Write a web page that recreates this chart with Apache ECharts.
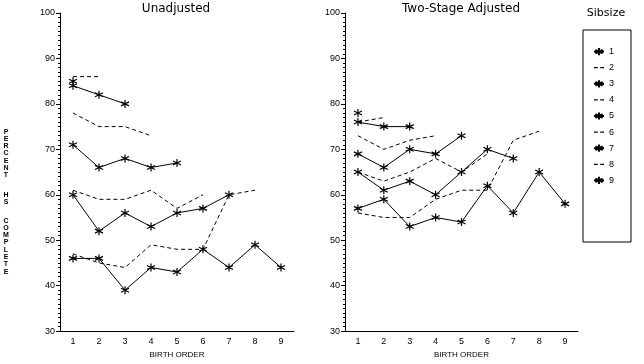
<!DOCTYPE html>
<html><head><meta charset="utf-8">
<script src="https://cdn.jsdelivr.net/npm/echarts@6/dist/echarts.min.js"></script>
<style>html,body{margin:0;padding:0;background:#fff}#c{width:644px;height:364px}</style>
</head><body><div id="c"></div>
<script>
const birthOrders = ['1','2','3','4','5','6','7','8','9'];
const sibsizes = ['1','2','3','4','5','6','7','8','9'];
const yTicks = [30, 40, 50, 60, 70, 80, 90, 100];
const panelTitles = ['Unadjusted', 'Two-Stage Adjusted'];

// Unadjusted: percent HS complete by birth order, one array per sibsize
const unadj1 = [85];
const unadj2 = [86, 86];
const unadj3 = [84, 82, 80];
const unadj4 = [78, 75, 75, 73];
const unadj5 = [71, 66, 68, 66, 67];
const unadj6 = [61, 59, 59, 61, 57, 60];
const unadj7 = [60, 52, 56, 53, 56, 57, 60];
const unadj8 = [47, 45, 44, 49, 48, 48, 60, 61];
const unadj9 = [46, 46, 39, 44, 43, 48, 44, 49, 44];

// Two-stage adjusted
const adj1 = [78];
const adj2 = [76, 77];
const adj3 = [76, 75, 75];
const adj4 = [73, 70, 72, 73];
const adj5 = [69, 66, 70, 69, 73];
const adj6 = [65, 63, 65, 68, 65, 69];
const adj7 = [65, 61, 63, 60, 65, 70, 68];
const adj8 = [56, 55, 55, 59, 61, 61, 72, 74];
const adj9 = [57, 59, 53, 55, 54, 62, 56, 65, 58];

const unadjAll = [unadj1, unadj2, unadj3, unadj4, unadj5, unadj6, unadj7, unadj8, unadj9];
const adjAll = [adj1, adj2, adj3, adj4, adj5, adj6, adj7, adj8, adj9];

const STAR = 'path://M0,-5L0,5M-4.33,-2.5L4.33,2.5M-4.33,2.5L4.33,-2.5';
const DASH_ICON = 'path://M0,0h3v1h-3zM5,0h3v1h-3z';
const AX_FONT = 'Liberation Sans';

function mkSeries(data, idx, panel) {
  const odd = (idx % 2 === 0); // sibsize 1,3,5,...
  return {
    type: 'line',
    name: sibsizes[idx],
    xAxisIndex: panel, yAxisIndex: panel,
    data: data,
    symbol: odd ? STAR : 'none',
    symbolSize: 8,
    showSymbol: odd,
    color: '#000',
    itemStyle: { color: '#000', borderColor: '#000', borderWidth: 1.2 },
    lineStyle: { color: '#000', width: 1, type: odd ? 'solid' : [4, 3] },
    emphasis: { disabled: true },
    animation: false,
    z: 3
  };
}

const series = [];
unadjAll.forEach((d, i) => series.push(mkSeries(d, i, 0)));
adjAll.forEach((d, i) => series.push(mkSeries(d, i, 1)));

function xAx(grid) {
  return {
    type: 'category', gridIndex: grid, data: birthOrders, boundaryGap: true,
    name: 'BIRTH ORDER', nameLocation: 'middle', nameGap: 18,
    nameTextStyle: { fontFamily: AX_FONT, fontSize: 8, color: '#000' },
    axisLine: { lineStyle: { color: '#000', width: 1 } },
    axisTick: { alignWithLabel: true, length: 4, lineStyle: { color: '#000' } },
    axisLabel: { fontFamily: AX_FONT, fontSize: 9, color: '#000', margin: 6 },
    splitLine: { show: false }
  };
}
function yAx(grid) {
  return {
    type: 'value', gridIndex: grid, min: yTicks[0], max: yTicks[yTicks.length - 1], interval: 10,
    axisLine: { show: true, lineStyle: { color: '#000', width: 1 } },
    axisTick: { show: true, length: 4, lineStyle: { color: '#000' } },
    minorTick: { show: true, splitNumber: 10, length: 2, lineStyle: { color: '#000' } },
    axisLabel: { fontFamily: AX_FONT, fontSize: 9, color: '#000', margin: 5 },
    splitLine: { show: false }
  };
}

function stacked(word) { return word.split('').join('\n'); }

const legendData = sibsizes.map((n, i) => (i % 2 === 0)
  ? { name: n }
  : { name: n, icon: DASH_ICON, itemStyle: { borderWidth: 0 } });

const titleFont = '12px "DejaVu Sans"';

const option = {
  backgroundColor: '#fff',
  animation: false,
  grid: [
    { left: 60, top: 13, width: 234, height: 324 },
    { left: 345, top: 13, width: 233, height: 324 }
  ],
  xAxis: [xAx(0), xAx(1)],
  yAxis: [yAx(0), yAx(1)],
  legend: {
    data: legendData,
    orient: 'vertical', left: 583, top: 30,
    itemWidth: 10, itemHeight: 9, itemGap: 7,
    padding: [17, 17, 57, 10],
    borderColor: '#000', borderWidth: 1,
    selectedMode: false,
    textStyle: { fontFamily: AX_FONT, fontSize: 9, color: '#000' }
  },
  graphic: [
    { type: 'text', x: 176, y: 3, style: { text: panelTitles[0], font: titleFont, fill: '#000', align: 'center' } },
    { type: 'text', x: 461, y: 3, style: { text: panelTitles[1], font: titleFont, fill: '#000', align: 'center' } },
    { type: 'text', x: 606, y: 8, style: { text: 'Sibsize', font: '11px "DejaVu Sans"', fill: '#000', align: 'center' } },
    { type: 'text', x: 6, y: 128, style: { text: stacked('PERCENT'), font: 'bold 7px "Liberation Sans"', lineHeight: 7.3, fill: '#000', align: 'center' } },
    { type: 'text', x: 6, y: 191, style: { text: stacked('HS'), font: 'bold 7px "Liberation Sans"', lineHeight: 7.3, fill: '#000', align: 'center' } },
    { type: 'text', x: 6, y: 217, style: { text: stacked('COMPLETE'), font: 'bold 7px "Liberation Sans"', lineHeight: 7.3, fill: '#000', align: 'center' } }
  ],
  series: series
};

const chart = echarts.init(document.getElementById('c'), null, { renderer: 'canvas' });
chart.setOption(option);
</script>
</body></html>
